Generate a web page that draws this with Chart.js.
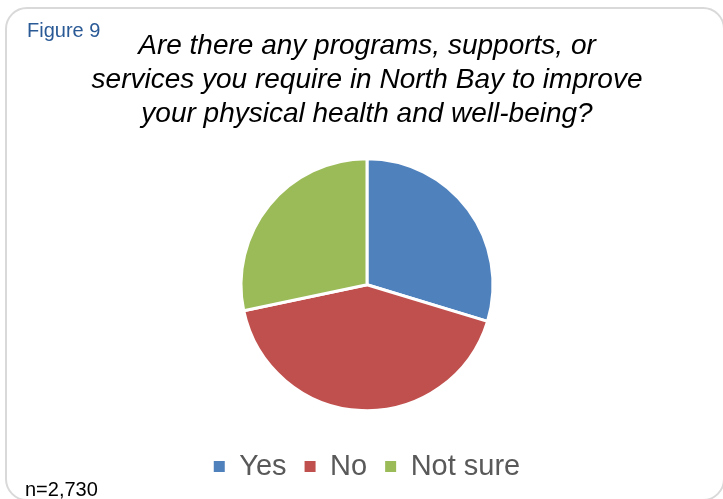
<!DOCTYPE html>
<html>
<head>
<meta charset="utf-8">
<script src="https://cdn.jsdelivr.net/npm/chart.js@4/dist/chart.umd.min.js"></script>
<style>
  html, body { margin: 0; padding: 0; background: #fff; }
  body { width: 723px; height: 499px; position: relative; overflow: hidden; font-family: "Liberation Sans", Arial, sans-serif; }
  #frame { position: absolute; left: 5px; top: 7px; width: 720px; height: 494px; border: 2px solid #d9d9d9; border-radius: 22px; box-sizing: border-box; }
  #fig { position: absolute; left: 27px; top: 19px; font-size: 20px; color: #2a5a96; }
  #note { position: absolute; left: 25px; top: 478px; font-size: 20px; color: #000; }
  #wrap { position: absolute; left: 0; top: 0; width: 723px; height: 499px; }
</style>
</head>
<body>
<div id="frame"></div>
<div id="wrap"><canvas id="pie"></canvas></div>
<div id="fig">Figure 9</div>
<div id="note">n=2,730</div>
<script>
// data
const categories = ['Yes', 'No', 'Not sure'];
const percentValues = [29.7, 42.0, 28.3];
const sliceColors = ['#4f81bd', '#c0504d', '#9bbb59'];
const titleLines = [
    'Are there any programs, supports, or',
    'services you require in North Bay to improve',
    'your physical health and well-being?'
];

const ctx = document.getElementById('pie');
new Chart(ctx, {
    type: 'pie',
    data: {
        labels: categories,
        datasets: [{
            data: percentValues,
            backgroundColor: sliceColors,
            borderColor: '#ffffff',
            borderWidth: 3,
            radius: 126
        }]
    },
    options: {
        responsive: true,
        maintainAspectRatio: false,
        animation: false,
        layout: { padding: { top: 29, left: 11, right: 0, bottom: 8 } },
        plugins: {
            title: {
                display: true,
                text: titleLines,
                color: '#000',
                font: { family: '"Liberation Sans", Arial, sans-serif', size: 28, style: 'italic', weight: 'normal', lineHeight: 1.22 },
                padding: { top: 0, bottom: 4 }
            },
            legend: {
                position: 'bottom',
                labels: {
                    boxWidth: 11,
                    boxHeight: 11,
                    padding: 18,
                    color: '#595959',
                    font: { family: '"Liberation Sans", Arial, sans-serif', size: 29 },
                    // legend squares without the white slice border
                    generateLabels: (chart) => Chart.overrides.pie.plugins.legend.labels.generateLabels(chart)
                        .map(item => Object.assign(item, { lineWidth: 0 }))
                }
            },
            tooltip: { enabled: false }
        }
    }
});
</script>
</body>
</html>
